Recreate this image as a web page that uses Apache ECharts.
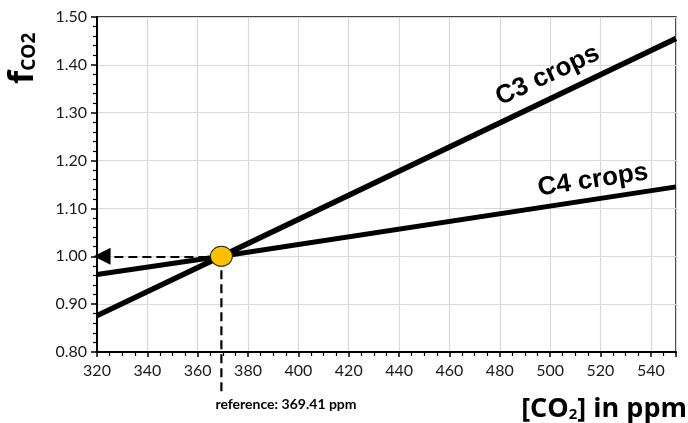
<!DOCTYPE html>
<html><head><meta charset="utf-8">
<script src="https://cdn.jsdelivr.net/npm/echarts@6/dist/echarts.min.js"></script>
<style>html,body{margin:0;padding:0;background:#fff}#c{width:688px;height:423px}</style>
</head><body><div id="c"></div>
<script>
var xTicks = [320,340,360,380,400,420,440,460,480,500,520,540];
var c3Data = [[320, 0.876], [369.41, 1.0], [550, 1.455]];
var c4Data = [[320, 0.962], [369.41, 1.0], [550, 1.145]];
var refPoint = [369.41, 1.0];
var refLabel = 'reference: 369.41 ppm';
var c3LabelAt = [499, 1.378];
var c4LabelAt = [517, 1.159];

var chart = echarts.init(document.getElementById('c'));
var font = 'Lato';
chart.setOption({
  animation: false,
  grid: {left: 97, right: 12, top: 17, bottom: 71, show: true, borderColor: '#000', borderWidth: 1.5},
  xAxis: {
    type: 'value', min: 320, max: 550, interval: 20,
    axisLine: {lineStyle: {color: '#000', width: 2}},
    axisTick: {show: true, length: 5, lineStyle: {color: '#000', width: 1.5}},
    minorTick: {show: true, splitNumber: 4, length: 4, lineStyle: {color: '#000', width: 1.2}},
    splitLine: {show: true, lineStyle: {color: '#d9d9d9', width: 1.2}},
    axisLabel: {color: '#1a1a1a', fontFamily: font, fontSize: 16, margin: 11,
      formatter: function(v){ return xTicks.indexOf(v) >= 0 ? String(v) : ''; }}
  },
  yAxis: {
    type: 'value', min: 0.8, max: 1.5, interval: 0.1,
    axisLine: {show: true, lineStyle: {color: '#000', width: 2}},
    axisTick: {show: true, length: 6, lineStyle: {color: '#000', width: 1.5}},
    minorTick: {show: true, splitNumber: 5, length: 4, lineStyle: {color: '#000', width: 1.2}},
    splitLine: {show: true, lineStyle: {color: '#d9d9d9', width: 1.2}},
    axisLabel: {color: '#1a1a1a', fontFamily: font, fontSize: 16, margin: 10,
      formatter: function(v){ return v.toFixed(2); }}
  },
  series: [
    {type: 'line', data: c3Data, showSymbol: false, lineStyle: {color: '#000', width: 5.5}, z: 3},
    {type: 'line', data: c4Data, showSymbol: false, lineStyle: {color: '#000', width: 5}, z: 3},
    {type: 'line', data: [refPoint, [refPoint[0], 0.714]], clip: false, showSymbol: false,
      lineStyle: {color: '#000', width: 2.2, type: [9, 5]}, z: 2,
      markLine: {silent: true, symbol: ['none', 'triangle'], symbolSize: [17, 17],
        lineStyle: {color: '#000', width: 2.2, type: [9, 5]}, label: {show: false},
        data: [[{coord: refPoint}, {coord: [322, refPoint[1]]}]]}},
    {type: 'scatter', data: [refPoint], symbolSize: [22, 20],
      itemStyle: {color: '#FFC000', borderColor: '#222', borderWidth: 1, opacity: 1}, z: 5}
  ]
});

var p3 = chart.convertToPixel({gridIndex: 0}, c3LabelAt);
var p4 = chart.convertToPixel({gridIndex: 0}, c4LabelAt);
var pr = chart.convertToPixel({gridIndex: 0}, [refPoint[0], 0.8]);
chart.setOption({graphic: [
  {type: 'text', x: p3[0], y: p3[1], rotation: 25 * Math.PI / 180,
    style: {text: 'C3 crops', font: 'bold 26px "Liberation Sans", Arial', fill: '#000', align: 'center', verticalAlign: 'middle'}},
  {type: 'text', x: p4[0], y: p4[1], rotation: 8.5 * Math.PI / 180,
    style: {text: 'C4 crops', font: 'bold 26px "Liberation Sans", Arial', fill: '#000', align: 'center', verticalAlign: 'middle'}},
  {type: 'text', x: pr[0] - 6, y: pr[1] + 52,
    style: {text: refLabel, font: 'bold 14px Lato', fill: '#000', align: 'left', verticalAlign: 'middle'}},
  {type: 'text', x: 687, y: 409,
    style: {text: '{a|[CO}{s|2}{a|] in ppm}', align: 'right', verticalAlign: 'middle',
      rich: {a: {font: 'bold 27px "Open Sans"', fill: '#000', lineHeight: 30},
             s: {font: 'bold 15px "Open Sans"', fill: '#000', padding: [12, 0, 0, 0], lineHeight: 30}}}},
  {type: 'text', x: 23, y: 84, rotation: Math.PI / 2,
    style: {text: '{a|f}{s|CO2}', align: 'left', verticalAlign: 'middle',
      rich: {a: {font: 'bold 34px "Open Sans"', fill: '#000', lineHeight: 36},
             s: {font: 'bold 19px "Open Sans"', fill: '#000', padding: [14, 0, 0, 0], lineHeight: 36}}}}
]});
</script></body></html>
